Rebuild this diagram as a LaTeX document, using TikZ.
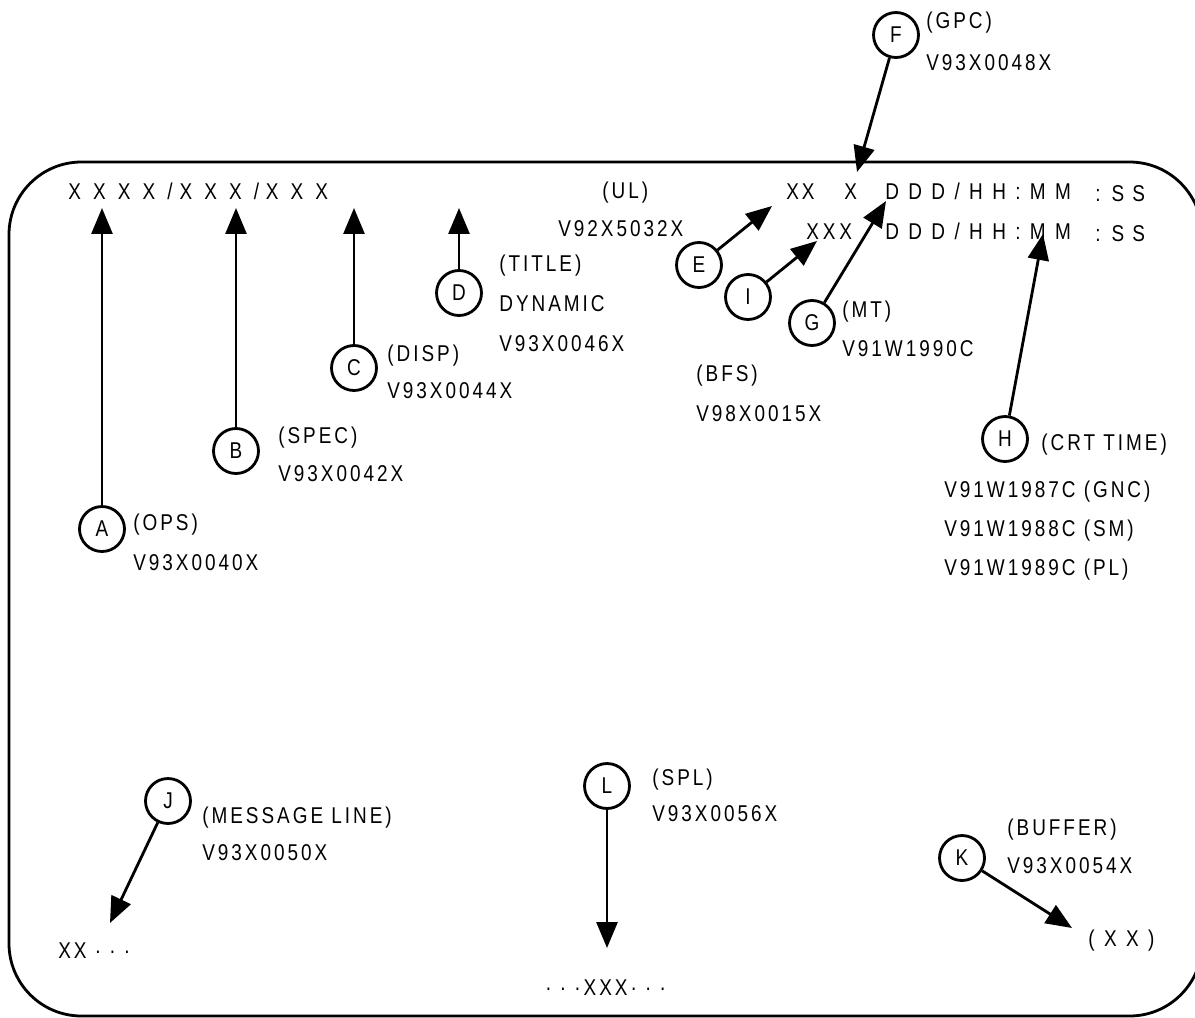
\documentclass[tikz,border=0pt]{standalone}
\usepackage{fontspec}
\setmainfont{Liberation Sans}[FakeStretch=0.83, LetterSpace=13]
\usetikzlibrary{arrows.meta}

\newcommand{\tracked}[2]{{\addfontfeature{LetterSpace=#1}#2}}

\begin{document}
\begin{tikzpicture}[x=0.02cm, y=-0.02cm, font=\fontsize{13}{15}\selectfont,
    tag/.style={circle, draw, line width=1.6pt, minimum size=0.9cm, inner sep=0pt},
    lbl/.style={anchor=west, inner sep=0pt, text height=9.3pt, text depth=0pt},
    arr/.style={line width=1.6pt, -{Triangle[length=0.52cm, width=0.42cm]}}]
    \useasboundingbox (0,0) rectangle (1195,1017);

    % display frame
    \draw[line width=1.6pt, rounded corners=1.45cm] (9,162) rectangle (1202,1016);

    % display fields
    \node[lbl] (mode) at (68,191) {\tracked{30}{X X X X /X X X /X X X}};
    \node[lbl] (ulid) at (786,191) {XX};
    \node[lbl] (gpcid) at (844,191) {X};
    \node[lbl] (met) at (885,191) {\tracked{18}{D D D / H H : M M}};
    \node[lbl] (metsec) at (1095,193) {: S S};
    \node[lbl] (bfsid) at (806,231) {X\,X\,X};
    \node[lbl] (crt) at (885,231) {\tracked{18}{D D D / H H : M M}};
    \node[lbl] (crtsec) at (1095,233) {: S S};
    \node[lbl] (msg) at (58,950) {XX · · ·};
    \node[lbl] (spl) at (545,987) {· · ·XXX· · ·};
    \node[lbl] (buf) at (1088,938) {\tracked{18}{( X X )}};

    % arrow tips
    \coordinate (tipA) at (102,208);
    \coordinate (tipB) at (236,208);
    \coordinate (tipC) at (354,208);
    \coordinate (tipD) at (459,208);
    \coordinate (tipE) at (772,206);
    \coordinate (tipI) at (817,241);
    \coordinate (tipG) at (886,201);
    \coordinate (tipH) at (1043,234);
    \coordinate (tipF) at (857,172);
    \coordinate (tipJ) at (110,923);
    \coordinate (tipL) at (607,948);
    \coordinate (tipK) at (1072,928);

    % callouts
    \node[tag] (A) at (102,529) {A};
    \node[tag] (B) at (236,451) {B};
    \node[tag] (C) at (354,368) {C};
    \node[tag] (D) at (459,293) {D};
    \node[tag] (E) at (699,265) {E};
    \node[tag] (I) at (748,297) {I};
    \node[tag] (G) at (812,323) {G};
    \node[tag] (F) at (896,35) {F};
    \node[tag] (H) at (1005,439) {H};
    \node[tag] (J) at (168,801) {J};
    \node[tag] (L) at (607,786) {L};
    \node[tag] (K) at (962,858) {K};

    \foreach \c in {A,B,C,D,E,I,G,F,H,J,L,K}
      \draw[arr] (\c) -- (tip\c);

    % labels
    \node[lbl] (opsname) at (133,522) {(OPS)};
    \node[lbl] (opsid) at (133,562) {V93X0040X};
    \node[lbl] (specname) at (278,435) {(SPEC)};
    \node[lbl] (specid) at (278,473) {V93X0042X};
    \node[lbl] (dispname) at (387,353) {(DISP)};
    \node[lbl] (dispid) at (387,390) {V93X0044X};
    \node[lbl] (titlename) at (499,263) {(TITLE)};
    \node[lbl] (titletype) at (499,303) {DYNAMIC};
    \node[lbl] (titleid) at (499,343) {V93X0046X};
    \node[lbl] (ulname) at (602,190) {(UL)};
    \node[lbl] (ulidnum) at (558,228) {V92X5032X};
    \node[lbl] (bfsname) at (696,373) {(BFS)};
    \node[lbl] (bfsidnum) at (696,413) {V98X0015X};
    \node[lbl] (mtname) at (842,309) {(MT)};
    \node[lbl] (mtid) at (842,348) {V91W1990C};
    \node[lbl] (gpcname) at (926,20) {(GPC)};
    \node[lbl] (gpcidnum) at (926,62) {V93X0048X};
    \node[lbl] (crtname) at (1041,442) {(CRT TIME)};
    \node[lbl] (crtgnc) at (944,489) {V91W1987C (GNC)};
    \node[lbl] (crtsm) at (944,528) {V91W1988C (SM)};
    \node[lbl] (crtpl) at (944,567) {V91W1989C (PL)};
    \node[lbl] (msgname) at (202,815) {(MESSAGE LINE)};
    \node[lbl] (msgid) at (202,852) {V93X0050X};
    \node[lbl] (splname) at (652,777) {(SPL)};
    \node[lbl] (splid) at (652,813) {V93X0056X};
    \node[lbl] (bufname) at (1007,827) {(BUFFER)};
    \node[lbl] (bufid) at (1007,865) {V93X0054X};
  \end{tikzpicture}
\end{document}
